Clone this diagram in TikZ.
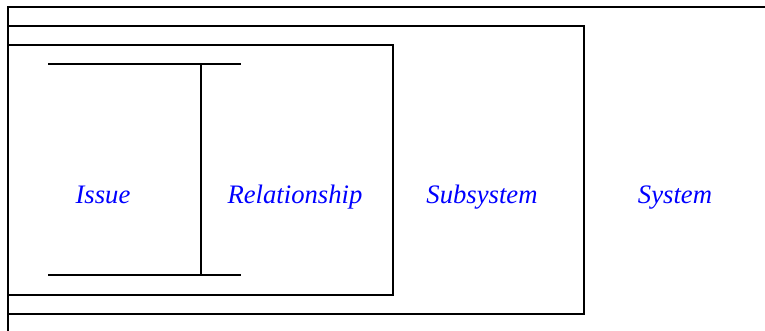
\documentclass[tikz,border=0pt]{standalone}
\usepackage{fontspec}
\newfontfamily\labelfont{LiberationSerif-Italic.ttf}
\begin{document}
\begin{tikzpicture}[x=0.75pt,y=-0.75pt,
  frame/.style={draw=black,line width=1.5pt},
  bar/.style={draw=black,line width=1.5pt},
  label/.style={text=blue,font=\labelfont\fontsize{20}{24}\selectfont,anchor=base,inner sep=0pt}]
  \useasboundingbox (0,0) rectangle (765,330);
  \clip (0,0) rectangle (765,330);
  % nested containers
  \draw[frame] (8,7) rectangle (800,360);
  \draw[frame] (8,26) rectangle (584,314);
  \draw[frame] (8,45) rectangle (393,295);
  % I-beam linking issue and relationship
  \coordinate (tl) at (48,64);
  \coordinate (tr) at (241,64);
  \coordinate (bl) at (48,275);
  \coordinate (br) at (241,275);
  \coordinate (vt) at (201,64);
  \coordinate (vb) at (201,275);
  \draw[bar] (tl) -- (tr);
  \draw[bar] (bl) -- (br);
  \draw[bar] (vt) -- (vb);
  % labels
  \node[label] (issue) at (103,203) {Issue};
  \node[label] (rel) at (295,203) {Relationship};
  \node[label] (sub) at (482,203) {Subsystem};
  \node[label] (sys) at (675,203) {System};
\end{tikzpicture}
\end{document}
